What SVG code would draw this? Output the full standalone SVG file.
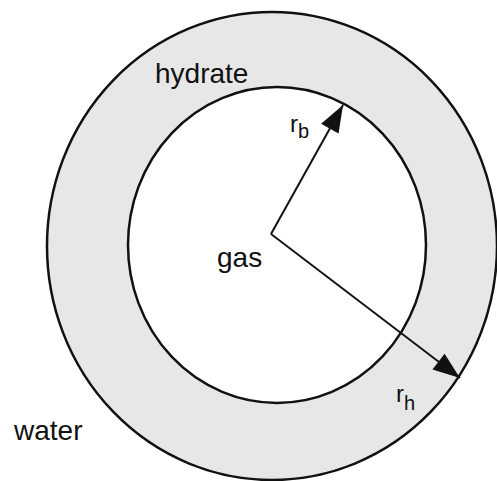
<svg xmlns="http://www.w3.org/2000/svg" width="497" height="481" viewBox="0 0 497 481">
<style>
text{font-family:"Liberation Sans",Arial,sans-serif;fill:#111}
.lbl{font-size:28px}
.ring{stroke:#111;stroke-width:2.5}
.arr{stroke:#111;stroke-width:2;fill:none}
</style>
<defs>
<marker id="head" markerUnits="userSpaceOnUse" markerWidth="40" markerHeight="30" viewBox="-30 -15 32 30" refX="0" refY="0" orient="auto">
<path d="M0,0 L-27,-10 L-27,10 Z" fill="#111"/>
</marker>
</defs>
<rect width="497" height="481" fill="#fff"/>
<g id="hydrate">
<ellipse class="ring" cx="272" cy="246" rx="225" ry="234" fill="#e7e7e7"/>
<text class="lbl" x="155" y="83">hydrate</text>
</g>
<g id="gas">
<ellipse class="ring" cx="277" cy="245" rx="149" ry="158" fill="#fff"/>
<text class="lbl" x="217" y="267">gas</text>
</g>
<g id="water">
<text class="lbl" x="14" y="440">water</text>
</g>
<g id="connectors">
<path class="arr" d="M271,234 L343,105" marker-end="url(#head)"/>
<path class="arr" d="M271,234 L460,378" marker-end="url(#head)"/>
</g>
<g id="labels">
<text x="290" y="132" font-size="24">r<tspan font-size="20" dy="6">b</tspan></text>
<text x="396" y="402" font-size="24">r<tspan font-size="20" dy="8">h</tspan></text>
</g>
</svg>
